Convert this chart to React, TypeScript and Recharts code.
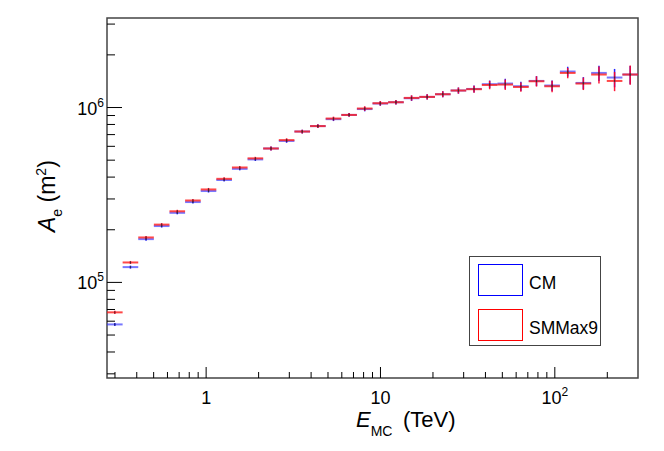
import { ComposedChart, Scatter, ErrorBar, XAxis, YAxis, ReferenceArea, Legend } from 'recharts'

// log-spaced energy bins (TeV)
const binEdges = [
  0.27, 0.3319, 0.4079, 0.5013, 0.6162, 0.7574, 0.9309, 1.144, 1.406, 1.728, 2.124, 2.611,
  3.209, 3.945, 4.849, 5.959, 7.324, 9.001, 11.06, 13.6, 16.71, 20.54, 25.25, 31.03, 38.14,
  46.88, 57.61, 70.81, 87.03, 106.9, 131.5, 161.6, 198.6, 244.1, 300,
]

// effective area (m^2)
const cmArea = [
  5.75e4, 1.223e5, 1.768e5, 2.1e5, 2.5e5, 2.88e5, 3.33e5, 3.85e5, 4.46e5, 5.05e5, 5.83e5,
  6.44e5, 7.29e5, 7.83e5, 8.58e5, 9.07e5, 9.8e5, 1.054e6, 1.072e6, 1.13e6, 1.15e6, 1.191e6,
  1.251e6, 1.277e6, 1.359e6, 1.371e6, 1.323e6, 1.419e6, 1.336e6, 1.606e6, 1.382e6, 1.577e6,
  1.484e6, 1.544e6,
]
const smArea = [
  6.74e4, 1.3e5, 1.807e5, 2.14e5, 2.55e5, 2.94e5, 3.4e5, 3.91e5, 4.54e5, 5.12e5, 5.83e5,
  6.51e5, 7.29e5, 7.83e5, 8.65e5, 9.07e5, 9.87e5, 1.058e6, 1.072e6, 1.135e6, 1.15e6, 1.191e6,
  1.251e6, 1.273e6, 1.346e6, 1.353e6, 1.311e6, 1.413e6, 1.323e6, 1.577e6, 1.371e6, 1.544e6,
  1.419e6, 1.544e6,
]

// statistical errors, percent
const cmErrPct = [
  2, 2, 2, 2, 2, 2, 2, 2, 2, 2, 2.5, 2.5, 2.5, 2.5, 2.5, 2.5, 3, 3, 3, 3.5, 3.5, 4, 4, 4.5,
  5, 6.5, 6, 6.5, 7, 6.5, 8, 10, 12, 12,
]
const smErrPct = [
  2, 2, 2, 2, 2, 2, 2, 2, 2, 2, 2.5, 2.5, 2.5, 2.5, 2.5, 2.5, 3, 3, 3, 3.5, 3.5, 4, 4, 4.5,
  5.5, 6.8, 6, 6.8, 7.5, 6.8, 8.2, 11, 12.6, 12.6,
]

const xMajor = [1, 10, 100]
const xMinor = [0.3, 0.4, 0.5, 0.6, 0.7, 0.8, 0.9, 2, 3, 4, 5, 6, 7, 8, 9, 20, 30, 40, 50, 60, 70, 80, 90, 200]
const yMajor = [1e5, 1e6]
const yMinor = [3e4, 4e4, 5e4, 6e4, 7e4, 8e4, 9e4, 2e5, 3e5, 4e5, 5e5, 6e5, 7e5, 8e5, 9e5, 2e6, 3e6]

const legendItems = [
  { label: 'CM', color: '#0000ff' },
  { label: 'SMMax9', color: '#ff0000' },
]

const xDomain = [0.27, 300]
const yDomain = [28400, 3250000]
const font = '"Liberation Sans", Arial, Helvetica, sans-serif'

function buildRows(values: number[], errPct: number[]) {
  return values.map((v, i) => {
    const lo = binEdges[i]
    const hi = binEdges[i + 1]
    const e = Math.sqrt(lo * hi)
    const err = (v * errPct[i]) / 100
    return { e, a: v, ex: [e - lo, hi - e], ey: [err, err] }
  })
}

const cmRows = buildRows(cmArea, cmErrPct)
const smRows = buildRows(smArea, smErrPct)

function isMajor(v: number) {
  const lg = Math.log10(v)
  return Math.abs(lg - Math.round(lg)) < 1e-6
}

function powerLabel(v: number) {
  const p = Math.round(Math.log10(v))
  if (p === 0) return <>1</>
  if (p === 1) return <>10</>
  return (
    <>
      10
      <tspan fontSize={12} dy={-8}>
        {p}
      </tspan>
    </>
  )
}

function XTick(props: any) {
  const { x, y, payload } = props
  const major = isMajor(payload.value)
  return (
    <g>
      <line x1={x} x2={x} y1={y} y2={y - (major ? 11 : 6)} stroke="#000" strokeWidth={1} />
      {major && (
        <text x={x} y={y + 26} textAnchor="middle" fontSize={18} fontFamily={font} fill="#000">
          {powerLabel(payload.value)}
        </text>
      )}
    </g>
  )
}

function YTick(props: any) {
  const { x, y, payload } = props
  const major = isMajor(payload.value)
  return (
    <g>
      <line x1={x} x2={x + (major ? 15 : 8)} y1={y} y2={y} stroke="#000" strokeWidth={1} />
      {major && (
        <text x={x - 3} y={y + 7} textAnchor="end" fontSize={18} fontFamily={font} fill="#000">
          {powerLabel(payload.value)}
        </text>
      )}
    </g>
  )
}

function XTitle() {
  return (
    <text x={356} y={427} fontSize={22} fontFamily={font} fill="#000">
      <tspan fontStyle="italic">E</tspan>
      <tspan fontSize={14} dy={9}>MC</tspan>
      <tspan x={403} dy={-9}>(TeV)</tspan>
    </text>
  )
}

function YTitle() {
  return (
    <text transform="translate(55,232) rotate(-90)" fontSize={23} fontFamily={font} fill="#000">
      <tspan fontStyle="italic">A</tspan>
      <tspan fontSize={14} dy={7}>e</tspan>
      <tspan dy={-7}> (m</tspan>
      <tspan fontSize={14} dy={-9}>2</tspan>
      <tspan dy={9}>)</tspan>
    </text>
  )
}

function Marker(props: any) {
  const { cx, cy } = props
  return <rect x={cx - 0.5} y={cy - 1} width={1} height={2} fill="#333" />
}

function LegendBox() {
  return (
    <div
      style={{
        position: 'relative',
        width: 132,
        height: 90,
        border: '1px solid #444',
        background: '#fff',
        boxSizing: 'border-box',
        fontFamily: font,
        fontSize: 17.5,
      }}
    >
      {legendItems.map((item, i) => (
        <div key={item.label}>
          <div
            style={{
              position: 'absolute',
              left: 8,
              top: 7 + i * 45,
              width: 45,
              height: 32,
              border: `1.5px solid ${item.color}`,
              boxSizing: 'border-box',
            }}
          />
          <div style={{ position: 'absolute', left: 59, top: 16 + i * 44.5, color: '#000', whiteSpace: 'nowrap' }}>
            {item.label}
          </div>
        </div>
      ))}
    </div>
  )
}

export default function App() {
  return (
    <div style={{ position: 'absolute', left: 0, top: 0, width: 664, height: 451, background: '#fff' }}>
      <ComposedChart width={664} height={451} margin={{ top: 18, right: 26, bottom: 0, left: 0 }}>
        <XAxis
          dataKey="e"
          type="number"
          scale="log"
          domain={xDomain}
          allowDataOverflow
          ticks={[...xMinor, ...xMajor]}
          interval={0}
          tick={<XTick />}
          tickSize={0}
          tickMargin={0}
          tickLine={false}
          axisLine={false}
          height={73}
          label={<XTitle />}
        />
        <YAxis
          type="number"
          scale="log"
          domain={yDomain}
          allowDataOverflow
          ticks={[...yMinor, ...yMajor]}
          interval={0}
          tick={<YTick />}
          tickSize={0}
          tickMargin={0}
          tickLine={false}
          axisLine={false}
          width={107}
          label={<YTitle />}
        />
        <ReferenceArea
          x1={xDomain[0]}
          x2={xDomain[1]}
          y1={yDomain[0]}
          y2={yDomain[1]}
          fill="none"
          stroke="#444"
          strokeWidth={1.5}
        />
        <Scatter name="CM" data={cmRows} dataKey="a" shape={<Marker />} isAnimationActive={false}>
          <ErrorBar dataKey="ex" direction="x" width={0} stroke="#3030ff" strokeWidth={2} strokeOpacity={0.65} />
          <ErrorBar dataKey="ey" direction="y" width={0} stroke="#0000ff" strokeWidth={1.5} strokeOpacity={0.85} />
        </Scatter>
        <Scatter name="SMMax9" data={smRows} dataKey="a" shape={<Marker />} isAnimationActive={false}>
          <ErrorBar dataKey="ex" direction="x" width={0} stroke="#ff1a1a" strokeWidth={2} strokeOpacity={0.8} />
          <ErrorBar dataKey="ey" direction="y" width={0} stroke="#ff0022" strokeWidth={1.5} strokeOpacity={0.9} />
        </Scatter>
        <Legend
          layout="vertical"
          align="center"
          verticalAlign="middle"
          content={<LegendBox />}
          wrapperStyle={{ left: 469, top: 256, width: 132, height: 90 }}
        />
      </ComposedChart>
    </div>
  )
}
